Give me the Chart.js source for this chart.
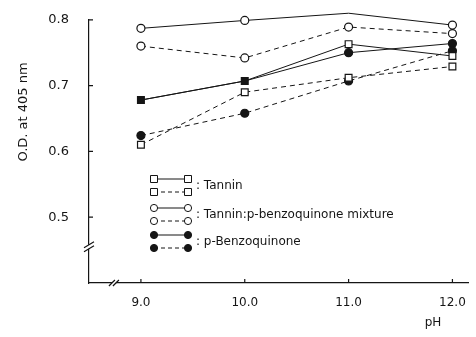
<!DOCTYPE html>
<html>
<head>
<meta charset="utf-8">
<script src="https://cdn.jsdelivr.net/npm/chart.js@4"></script>
<style>
  html, body { margin: 0; padding: 0; background: #fff; }
  #wrap { width: 476px; height: 337px; }
</style>
</head>
<body>
<div id="wrap"><canvas id="odChart"></canvas></div>
<script>
/* data */
const phValues = [9, 10, 11, 12];
const phTicks = [9, 10, 11, 12];
const phTickLabels = ["9.0", "10.0", "11.0", "12.0"];
const odTicks = [0.5, 0.6, 0.7, 0.8];

const tanninSolid = [0.678, 0.707, 0.763, 0.745];
const tanninDashed = [0.610, 0.690, 0.712, 0.729];
const mixtureSolid = [0.787, 0.799, 0.810, 0.792];
const mixtureDashed = [0.760, 0.742, 0.789, 0.779];
const benzoSolid = [0.678, 0.707, 0.750, 0.764];
const benzoDashed = [0.624, 0.658, 0.707, 0.753];

const legendLabels = [": Tannin", ": Tannin:p-benzoquinone mixture", ": p-Benzoquinone"];

const INK = "#151515";
const FONT = "DejaVu Sans";

const pts = (vals) => vals.map((v, i) => ({ x: phValues[i], y: v }));

function series(label, vals, dashed, shape, fill) {
  return {
    label,
    data: pts(vals),
    showLine: true,
    borderColor: INK,
    borderWidth: 1,
    borderDash: dashed ? [5, 4] : [],
    pointStyle: shape,
    pointRadius: shape === "rect" ? 4.8 : 4,
    pointBorderWidth: 1.2,
    pointBorderColor: INK,
    pointBackgroundColor: fill,
    clip: false,
  };
}

/* axis extras: inward ticks, axis breaks, y title, legend */
const extras = {
  id: "extras",
  afterDraw(chart) {
    const { ctx, chartArea: a, scales } = chart;
    const xs = scales.x, ys = scales.y;
    ctx.save();
    ctx.strokeStyle = INK;
    ctx.lineWidth = 1.2;
    ctx.beginPath();
    odTicks.forEach((v) => {
      const y = ys.getPixelForValue(v);
      ctx.moveTo(a.left, y); ctx.lineTo(a.left + 4, y);
    });
    phTicks.forEach((v) => {
      const x = xs.getPixelForValue(v);
      ctx.moveTo(x, a.bottom); ctx.lineTo(x, a.bottom - 4);
    });
    ctx.stroke();

    // axis breaks
    const yb = ys.getPixelForValue(0.455);
    ctx.fillStyle = "#fff";
    ctx.fillRect(a.left - 2, yb - 2, 4, 4);
    ctx.beginPath();
    ctx.moveTo(a.left - 5, yb + 1); ctx.lineTo(a.left + 5, yb - 5);
    ctx.moveTo(a.left - 5, yb + 5); ctx.lineTo(a.left + 5, yb - 1);
    const xb = xs.getPixelForValue(8.74);
    ctx.fillRect(xb - 2, a.bottom - 2, 4, 4);
    ctx.moveTo(xb - 5, a.bottom + 3); ctx.lineTo(xb + 1, a.bottom - 3);
    ctx.moveTo(xb - 1, a.bottom + 3); ctx.lineTo(xb + 5, a.bottom - 3);
    ctx.stroke();

    // y title
    ctx.fillStyle = INK;
    ctx.font = "13px " + FONT;
    ctx.textAlign = "center";
    ctx.textBaseline = "middle";
    ctx.translate(24, 112);
    ctx.rotate(-Math.PI / 2);
    ctx.fillText("O.D. at 405 nm", 0, 0);
    ctx.setTransform(1, 0, 0, 1, 0, 0);

    // legend
    const shapes = ["rect", "circle", "circle"];
    const fills = ["#fff", "#fff", INK];
    const rows = [[179, 192], [208, 221], [235, 248]];
    const x0 = 154, x1 = 188;
    ctx.lineWidth = 1;
    rows.forEach((r, k) => {
      r.forEach((y, j) => {
        ctx.setLineDash(j === 0 ? [] : [4, 3]);
        ctx.beginPath();
        ctx.moveTo(x0, y); ctx.lineTo(x1, y);
        ctx.stroke();
        ctx.setLineDash([]);
        [x0, x1].forEach((x) => {
          ctx.fillStyle = fills[k];
          ctx.beginPath();
          if (shapes[k] === "rect") ctx.rect(x - 3.5, y - 3.5, 7, 7);
          else ctx.arc(x, y, 3.6, 0, Math.PI * 2);
          ctx.fill();
          ctx.stroke();
        });
      });
      ctx.fillStyle = INK;
      ctx.font = "12px " + FONT;
      ctx.textAlign = "left";
      ctx.textBaseline = "middle";
      ctx.fillText(legendLabels[k], 196, (r[0] + r[1]) / 2);
    });

    // x title
    ctx.textAlign = "center";
    ctx.fillText("pH", 433, 323);
    ctx.restore();
  },
};

new Chart(document.getElementById("odChart"), {
  type: "scatter",
  data: {
    // first dataset is drawn on top
    datasets: [
      {
        ...series("Tannin solid", tanninSolid, false, "rect", "#fff"),
        pointBackgroundColor: [INK, INK, "#fff", "#fff"],
      },
      series("Tannin dashed", tanninDashed, true, "rect", "#fff"),
      series("Mixture solid", mixtureSolid, false, "circle", "#fff"),
      series("Mixture dashed", mixtureDashed, true, "circle", "#fff"),
      series("Benzoquinone dashed", benzoDashed, true, "circle", INK),
      {
        // markers at 9 and 10 coincide with the tannin ones (drawn as filled squares)
        ...series("Benzoquinone solid", benzoSolid, false, "circle", INK),
        pointRadius: [0, 0, 4, 4],
      },
    ],
  },
  plugins: [extras],
  options: {
    responsive: true,
    maintainAspectRatio: false,
    animation: false,
    layout: { padding: { top: 12, right: 8, left: 0, bottom: 0 } },
    plugins: {
      legend: { display: false },
      tooltip: { enabled: false },
    },
    scales: {
      x: {
        type: "linear",
        min: 8.5,
        max: 12.15,
        afterBuildTicks: (s) => { s.ticks = phTicks.map((v) => ({ value: v })); },
        afterFit: (s) => { s.height = 337 - 283; },
        grid: { display: false },
        border: { display: true, color: INK, width: 1.2 },
        ticks: {
          padding: 5,
          color: INK,
          font: { family: FONT, size: 12 },
          callback: (v) => phTickLabels[phTicks.indexOf(v)] ?? "",
        },
      },
      y: {
        min: 0.4,
        max: 0.8,
        afterBuildTicks: (s) => { s.ticks = odTicks.map((v) => ({ value: v })); },
        afterFit: (s) => { s.width = 89; },
        grid: { display: false },
        border: { display: true, color: INK, width: 1.2 },
        ticks: {
          padding: 12,
          color: INK,
          font: { family: FONT, size: 13 },
          callback: (v) => v.toFixed(1),
        },
      },
    },
  },
});
</script>
</body>
</html>
